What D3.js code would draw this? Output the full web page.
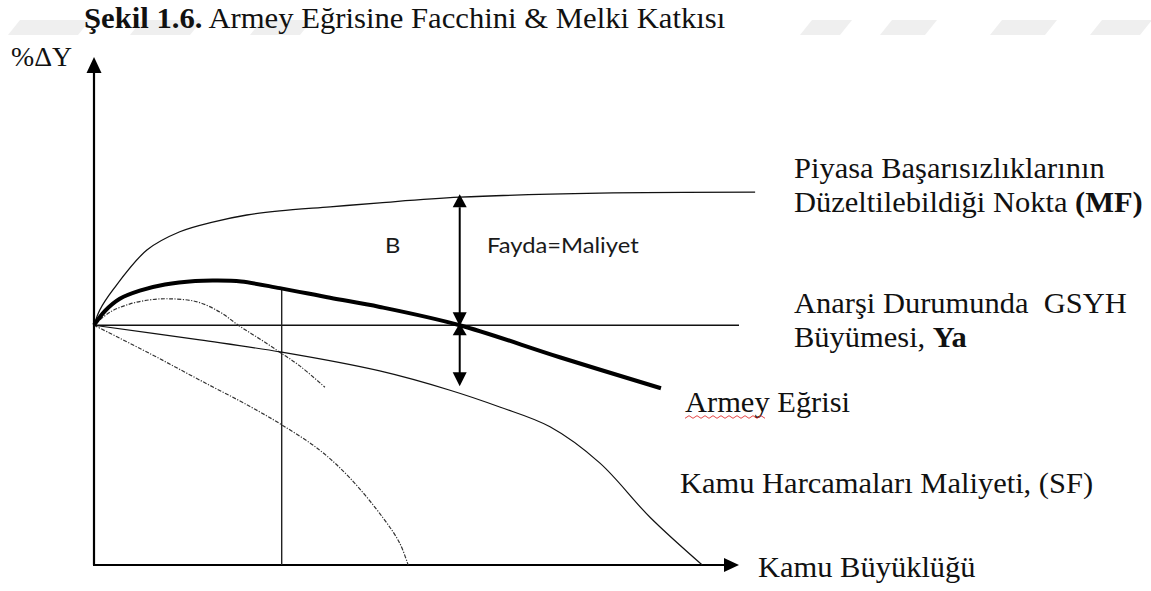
<!DOCTYPE html>
<html>
<head>
<meta charset="utf-8">
<script src="https://cdn.jsdelivr.net/npm/d3@7"></script>
<style>
  html, body { margin: 0; padding: 0; background: #fff; }
  svg { display: block; }
</style>
</head>
<body>
<svg id="chart" width="1151" height="591"></svg>
<script>
// Armey curve with the Facchini & Melki extension.
// x: public sector size (0–100), y: %ΔY (0–100)

// GDP growth under anarchy (Ya)
const anarchyGrowth = 47.2;
const anarchyEndX = 100;

// MF: point where market failures are corrected
const mfX = [0, 0.9, 2.9, 8.2, 13.3, 18.4, 23.7, 28.8, 36.6, 44.3, 56.7, 78.4, 102.5];
const mfY = [47.2, 50.2, 54.1, 62.0, 65.6, 67.5, 68.9, 69.7, 70.5, 71.3, 72.4, 73.2, 73.4];

// Armey curve
const armeyX = [0, 1.7, 4.0, 7.1, 11.0, 15.7, 18.9, 22.8, 28.8, 36.6, 44.3, 56.7, 72.2, 87.9];
const armeyY = [47.2, 50.0, 52.4, 54.0, 55.2, 55.9, 56.0, 55.8, 54.5, 52.6, 50.8, 47.2, 40.9, 34.8];

// SF: cost of public expenditure
const sfX = [0, 16.4, 29.1, 44.3, 55.2, 62.9, 70.7, 78.4, 86.2, 94.3];
const sfY = [47.2, 44.3, 41.9, 38.2, 34.4, 31.1, 27.2, 20.1, 9.4, 0];

// Dash-dot alternative curves
const altUpperX = [0, 2.5, 5.6, 8.7, 11.8, 16.0, 19.5, 22.6, 25.7, 28.8, 31.9, 35.8];
const altUpperY = [47.2, 49.8, 51.4, 52.2, 52.4, 51.8, 49.8, 47.0, 44.5, 41.9, 39.2, 35.0];
const altLowerX = [0, 8.7, 16.4, 24.2, 29.1, 35.0, 39.7, 44.8, 47.4, 48.7];
const altLowerY = [47.2, 41.6, 36.4, 31.2, 27.6, 22.6, 17.1, 9.3, 4.3, 0];

// Reference markers
const dropX = 29.1;          // vertical guide from the Armey curve
const dropTop = 54.5;
const balanceX = 56.7;       // Fayda = Maliyet
const benefitTop = 72.4;
const costBottom = 35.2;

const zip = (xs, ys) => xs.map((v, i) => [v, ys[i]]);

const svg = d3.select("#chart");
const x = d3.scaleLinear().domain([0, 100]).range([94, 739]);
const y = d3.scaleLinear().domain([0, 100]).range([565, 57]);

const serif = "'Liberation Serif', 'Times New Roman', serif";
const sans = "Lato, 'Open Sans', sans-serif";
const ink = "#111";

// faint banner behind the title
const banner = svg.append("g").attr("fill", "#efefef");
[[8, 70], [130, 60], [250, 50], [800, 40], [880, 45], [990, 55], [1090, 50]].forEach(([bx, bw]) => {
  banner.append("path")
    .attr("d", `M${bx + 12},20 L${bx + bw + 12},20 L${bx + bw},35 L${bx},35 Z`);
});

// text helper: slightly widened glyphs
function stretchedText(tx, ty, family, size, sx) {
  return svg.append("text")
    .attr("transform", `translate(${tx},${ty}) scale(${sx},1)`)
    .attr("font-family", family).attr("font-size", size).attr("fill", ink)
    .attr("xml:space", "preserve");
}

// title
const title = stretchedText(84, 28, serif, 29.5, 1.04);
title.append("tspan").attr("font-weight", "bold").text("Şekil 1.6.");
title.append("tspan").text(" Armey Eğrisine Facchini & Melki Katkısı");

// axis label %ΔY
stretchedText(11, 66, serif, 27, 1.03).text("%ΔY");

const line = d3.line().x(d => x(d[0])).y(d => y(d[1])).curve(d3.curveCatmullRom.alpha(0.5));

function arrowHead(tipX, tipY, dir, len, half) {
  let pts;
  if (dir === "up") pts = [[tipX, tipY], [tipX - half, tipY + len], [tipX + half, tipY + len]];
  else if (dir === "down") pts = [[tipX, tipY], [tipX - half, tipY - len], [tipX + half, tipY - len]];
  else pts = [[tipX, tipY], [tipX - len, tipY - half], [tipX - len, tipY + half]];
  svg.append("path").attr("d", "M" + pts.join("L") + "Z").attr("fill", "#000");
}

// axes
svg.append("line")
  .attr("x1", x(0)).attr("y1", y(0)).attr("x2", x(0)).attr("y2", y(100) + 10)
  .attr("stroke", "#000").attr("stroke-width", 2.2);
arrowHead(x(0), y(100), "up", 16, 7.5);
svg.append("line")
  .attr("x1", x(0) - 1).attr("y1", y(0)).attr("x2", x(100) - 10).attr("y2", y(0))
  .attr("stroke", "#000").attr("stroke-width", 2.2);
arrowHead(x(100), y(0), "right", 15, 7);

// anarchy growth line (Ya)
svg.append("line")
  .attr("x1", x(0)).attr("y1", y(anarchyGrowth)).attr("x2", x(anarchyEndX)).attr("y2", y(anarchyGrowth))
  .attr("stroke", "#111").attr("stroke-width", 1.4);

// vertical guide
svg.append("line")
  .attr("x1", x(dropX)).attr("y1", y(dropTop)).attr("x2", x(dropX)).attr("y2", y(0))
  .attr("stroke", "#222").attr("stroke-width", 1.4);

// dash-dot curves
[zip(altUpperX, altUpperY), zip(altLowerX, altLowerY)].forEach(pts => {
  svg.append("path").attr("d", line(pts))
    .attr("fill", "none").attr("stroke", "#333").attr("stroke-width", 1.2)
    .attr("stroke-dasharray", "4,1.5,1.2,1.5");
});

// SF curve
svg.append("path").attr("d", line(zip(sfX, sfY)))
  .attr("fill", "none").attr("stroke", "#111").attr("stroke-width", 1.2);

// MF curve
svg.append("path").attr("d", line(zip(mfX, mfY)))
  .attr("fill", "none").attr("stroke", "#111").attr("stroke-width", 1.3);

// Armey curve
svg.append("path").attr("d", line(zip(armeyX, armeyY)))
  .attr("fill", "none").attr("stroke", "#000").attr("stroke-width", 4);

// double arrows at the balance point
const bx = x(balanceX);
svg.append("line")
  .attr("x1", bx).attr("y1", y(benefitTop) + 10).attr("x2", bx).attr("y2", y(anarchyGrowth) - 10)
  .attr("stroke", "#000").attr("stroke-width", 2);
arrowHead(bx, y(benefitTop) - 3, "up", 13, 7);
arrowHead(bx, y(anarchyGrowth) + 1, "down", 14, 7);
svg.append("line")
  .attr("x1", bx).attr("y1", y(anarchyGrowth) + 8).attr("x2", bx).attr("y2", y(costBottom) - 8)
  .attr("stroke", "#000").attr("stroke-width", 2);
arrowHead(bx, y(anarchyGrowth) - 2, "up", 12, 7);
arrowHead(bx, y(costBottom), "down", 14, 7);

// sans labels
stretchedText(385, 253, sans, 22, 1.08).attr("fill", "#1a1a1a").text("B");
stretchedText(487, 253, sans, 22, 1.08).attr("fill", "#1a1a1a").text("Fayda=Maliyet");

// serif labels
function label(tx, ty, parts) {
  const t = stretchedText(tx, ty, serif, 28.5, 1.07);
  parts.forEach(([s, bold]) => t.append("tspan").attr("font-weight", bold ? "bold" : "normal").text(s));
  return t;
}
label(794, 178, [["Piyasa Başarısızlıklarının"]]);
label(794, 212, [["Düzeltilebildiği Nokta "], ["(MF)", true]]);
label(794, 313, [["Anarşi Durumunda  GSYH"]]);
label(794, 347, [["Büyümesi, "], ["Ya", true]]);
label(685, 412, [["Armey Eğrisi"]]);
label(680, 493, [["Kamu Harcamaları Maliyeti, (SF)"]]);
label(758, 577, [["Kamu Büyüklüğü"]]);

// red wavy underline under "Armey"
const wave = d3.range(0, 21).map(i => [685 + i * 4, 417 + (i % 2 ? -1.3 : 1.3)]);
svg.append("path").attr("d", d3.line()(wave))
  .attr("fill", "none").attr("stroke", "#e03030").attr("stroke-width", 0.9);
</script>
</body>
</html>
